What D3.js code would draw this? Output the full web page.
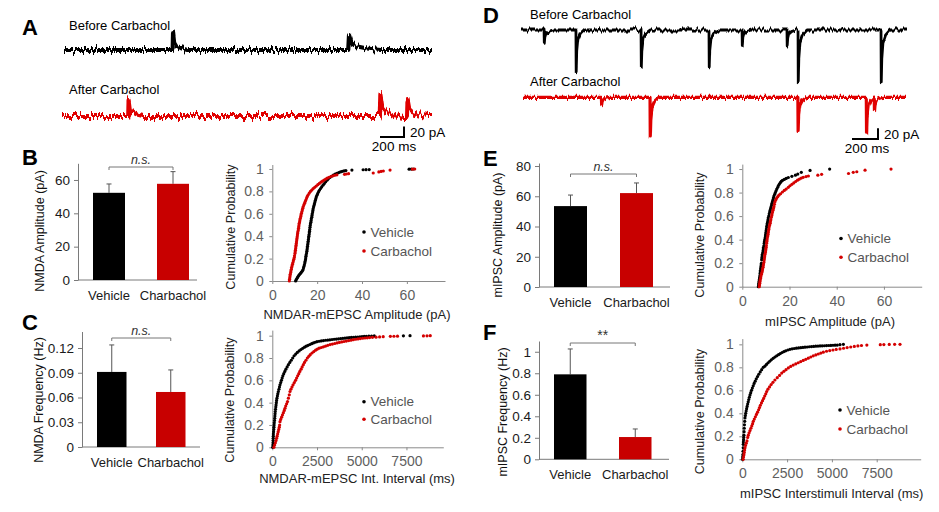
<!DOCTYPE html>
<html><head><meta charset="utf-8">
<script src="https://cdn.jsdelivr.net/npm/d3@7"></script>
<style>
body{margin:0;background:#fff;}
svg{display:block;font-family:"Liberation Sans",Arial,Helvetica,sans-serif;background:#fff;}
</style></head><body>
<svg id="fig" width="939" height="512"></svg>
<script>
// ---------------- DATA ----------------
const groups = ["Vehicle", "Charbachol"];
const seriesNames = ["Vehicle", "Carbachol"];

// Example traces: event onset (ms), amplitude (pA), decay stretch
const traceDuration = 3000;
const kernelNMDA = [[0,0],[3,1],[12,0.45],[30,0.25],[70,0.1],[120,0]];
const kernelIPSC = [[0,0],[2,1],[6,0.55],[15,0.25],[35,0.1],[70,0]];
const nmdaBefore = [[886,34,1],[2317,28,2.2]];
const nmdaAfter  = [[537,30,1],[2577,40,1.6],[2797,30,1.4]];
const ipscBefore = [[179,25,1],[427,78,1],[933,69,1],[1461,69,1],[1718,29,1],[2067,30,1],[2153,97,1],[2798,97,1]];
const ipscAfter  = [[614,14,1],[995,74,1],[2153,62,1],[2689,67,1],[2751,24,1]];

// Bar charts (mean, SEM)
const nmdaAmpMean = [52.3, 57.7],  nmdaAmpSem = [5.3, 7.3];
const nmdaFreqMean = [0.091, 0.0667], nmdaFreqSem = [0.0327, 0.0267];
const ipscAmpMean = [53.5, 62.1],  ipscAmpSem = [7.3, 6.7];
const ipscFreqMean = [0.79, 0.207], ipscFreqSem = [0.236, 0.075];
const nmdaAmpTicks = [0,20,40,60];
const nmdaFreqTicks = [0,0.03,0.06,0.09,0.12];
const ipscAmpTicks = [0,20,40,60,80];
const ipscFreqTicks = [0,0.2,0.4,0.6,0.8,1];
const probTicks = [0,0.2,0.4,0.6,0.8,1];
const ampTicks = [0,20,40,60];
const intervalTicks = [0,2500,5000,7500];

// Cumulative distributions: [value, cumulative probability]
const nmdaAmpVeh = [[10.4,0],[10.6,0.01],[10.9,0.02],[11.2,0.03],[11.5,0.04],[11.8,0.05],[12.2,0.06],[12.6,0.07],[13.0,0.08],[13.4,0.09],[13.7,0.1],[13.9,0.115],[14.1,0.13],[14.3,0.145],[14.5,0.16],[14.6,0.175],[14.8,0.19],[14.9,0.205],[15.0,0.22],[15.1,0.235],[15.3,0.25],[15.4,0.265],[15.5,0.28],[15.6,0.295],[15.7,0.31],[15.8,0.325],[15.9,0.34],[16.0,0.355],[16.1,0.37],[16.2,0.385],[16.3,0.4],[16.4,0.415],[16.5,0.43],[16.6,0.445],[16.7,0.46],[16.8,0.48],[16.9,0.495],[17.0,0.51],[17.2,0.525],[17.3,0.54],[17.4,0.555],[17.6,0.57],[17.7,0.585],[17.8,0.6],[18.0,0.615],[18.1,0.63],[18.2,0.645],[18.4,0.66],[18.6,0.675],[18.8,0.69],[19.0,0.705],[19.2,0.72],[19.4,0.735],[19.6,0.75],[19.9,0.765],[20.2,0.78],[20.6,0.795],[21.0,0.81],[21.5,0.825],[22.0,0.84],[22.6,0.855],[23.2,0.87],[23.8,0.885],[24.4,0.9],[25.0,0.912],[25.7,0.924],[26.4,0.935],[27.2,0.945],[28.0,0.954],[28.8,0.962],[29.6,0.968],[30.4,0.974],[31.2,0.979],[32.0,0.983],[32.8,0.986],[35.5,0.99],[40.5,0.993],[41.8,0.994],[43.2,0.995],[61.0,0.998],[62.0,0.999],[63.0,1]];
const nmdaAmpCarb = [[7.6,0],[7.7,0.015],[7.8,0.03],[7.9,0.045],[8.0,0.06],[8.2,0.075],[8.3,0.09],[8.5,0.105],[8.6,0.12],[8.8,0.135],[9.0,0.15],[9.2,0.165],[9.4,0.18],[9.6,0.195],[9.8,0.21],[9.9,0.225],[10.1,0.245],[10.2,0.26],[10.3,0.275],[10.4,0.29],[10.5,0.305],[10.6,0.32],[10.7,0.335],[10.8,0.35],[10.9,0.365],[11.0,0.38],[11.1,0.395],[11.2,0.41],[11.3,0.425],[11.4,0.44],[11.6,0.455],[11.7,0.47],[11.8,0.485],[11.9,0.5],[12.0,0.515],[12.2,0.53],[12.3,0.545],[12.5,0.56],[12.7,0.575],[12.8,0.59],[13.0,0.605],[13.2,0.62],[13.4,0.635],[13.6,0.65],[13.8,0.665],[14.1,0.68],[14.4,0.695],[14.7,0.71],[15.0,0.725],[15.3,0.74],[15.6,0.755],[16.0,0.77],[16.5,0.785],[17.0,0.8],[17.6,0.812],[18.2,0.824],[18.9,0.836],[19.6,0.848],[20.3,0.86],[21.0,0.871],[21.7,0.882],[22.4,0.892],[23.1,0.901],[23.8,0.91],[24.5,0.918],[25.3,0.926],[26.1,0.933],[27.0,0.939],[27.9,0.944],[28.8,0.948],[32.2,0.952],[33.0,0.955],[34.0,0.958],[45.0,0.964],[47.5,0.974],[48.5,0.978],[49.5,0.982],[52.5,0.99],[62.5,0.998],[63.5,1]];
const nmdaIntVeh = [[20,0],[30,0.02],[40,0.04],[45,0.06],[50,0.08],[55,0.1],[60,0.12],[70,0.14],[80,0.16],[90,0.18],[100,0.2],[110,0.22],[125,0.24],[135,0.26],[145,0.28],[155,0.3],[165,0.32],[180,0.34],[195,0.36],[210,0.38],[225,0.4],[240,0.42],[260,0.44],[285,0.46],[310,0.48],[340,0.5],[370,0.52],[400,0.54],[430,0.56],[470,0.58],[510,0.6],[550,0.62],[590,0.64],[640,0.66],[700,0.68],[760,0.7],[830,0.72],[900,0.74],[980,0.76],[1060,0.78],[1140,0.8],[1220,0.82],[1310,0.835],[1400,0.85],[1500,0.863],[1600,0.876],[1700,0.887],[1800,0.897],[1900,0.906],[2000,0.914],[2100,0.921],[2200,0.928],[2300,0.935],[2400,0.941],[2500,0.946],[2620,0.95],[2740,0.953],[2860,0.956],[2980,0.959],[3100,0.961],[3220,0.963],[3340,0.966],[3460,0.968],[3580,0.97],[3700,0.972],[3820,0.974],[3940,0.976],[4060,0.978],[4180,0.98],[4300,0.982],[4420,0.984],[4540,0.985],[4660,0.987],[4780,0.988],[4900,0.989],[5020,0.991],[5140,0.993],[5260,0.995],[5400,0.996],[5550,0.997],[5700,0.998],[7330,0.999],[7700,1]];
const nmdaIntCarb = [[90,0],[130,0.02],[170,0.04],[210,0.06],[240,0.08],[270,0.1],[300,0.12],[330,0.14],[360,0.16],[390,0.18],[410,0.2],[430,0.23],[470,0.25],[520,0.27],[570,0.29],[620,0.31],[670,0.33],[710,0.35],[750,0.37],[800,0.39],[850,0.41],[900,0.44],[950,0.47],[990,0.5],[1040,0.52],[1100,0.54],[1160,0.56],[1230,0.58],[1300,0.6],[1360,0.62],[1420,0.64],[1480,0.66],[1540,0.68],[1610,0.7],[1670,0.72],[1735,0.74],[1800,0.76],[1880,0.78],[1960,0.8],[2040,0.815],[2120,0.83],[2220,0.845],[2320,0.858],[2420,0.87],[2520,0.88],[2620,0.888],[2740,0.894],[2860,0.9],[2980,0.907],[3100,0.914],[3230,0.92],[3360,0.925],[3490,0.93],[3620,0.935],[3750,0.94],[3880,0.944],[4010,0.948],[4140,0.952],[4270,0.956],[4400,0.96],[4530,0.964],[4660,0.968],[4790,0.971],[4920,0.974],[5050,0.977],[5180,0.979],[5310,0.981],[5440,0.983],[5600,0.985],[5800,0.987],[6000,0.989],[6200,0.991],[6600,0.994],[6800,0.995],[7000,0.996],[8450,0.998],[8650,0.999],[8830,1]];
const ipscAmpVeh = [[6.8,0],[6.9,0.015],[7.0,0.03],[7.1,0.045],[7.2,0.06],[7.3,0.075],[7.4,0.09],[7.5,0.11],[7.6,0.125],[7.7,0.14],[7.8,0.155],[7.9,0.17],[8.0,0.185],[8.1,0.2],[8.2,0.23],[8.3,0.245],[8.4,0.26],[8.5,0.275],[8.7,0.29],[8.8,0.305],[8.9,0.32],[9.0,0.335],[9.2,0.35],[9.3,0.37],[9.4,0.385],[9.5,0.4],[9.7,0.415],[9.8,0.43],[9.9,0.445],[10.0,0.46],[10.1,0.475],[10.2,0.49],[10.3,0.51],[10.5,0.525],[10.6,0.54],[10.8,0.555],[10.9,0.57],[11.0,0.585],[11.2,0.6],[11.4,0.62],[11.6,0.635],[11.8,0.65],[12.0,0.665],[12.2,0.68],[12.4,0.695],[12.6,0.71],[12.8,0.725],[13.0,0.74],[13.2,0.755],[13.4,0.77],[13.7,0.785],[14.0,0.8],[14.3,0.815],[14.6,0.83],[15.0,0.845],[15.3,0.86],[15.7,0.872],[16.1,0.884],[16.5,0.895],[17.0,0.903],[17.8,0.912],[18.6,0.92],[19.5,0.928],[21.0,0.938],[22.5,0.948],[23.5,0.957],[25.0,0.972],[28.7,0.988],[37.0,1]];
const ipscAmpCarb = [[7.2,0],[7.3,0.015],[7.4,0.03],[7.5,0.045],[7.6,0.06],[7.8,0.075],[7.9,0.09],[8.1,0.105],[8.3,0.12],[8.5,0.135],[8.6,0.15],[8.8,0.165],[8.9,0.18],[9.0,0.195],[9.2,0.21],[9.3,0.23],[9.4,0.245],[9.5,0.26],[9.6,0.275],[9.8,0.29],[9.9,0.305],[10.0,0.32],[10.1,0.335],[10.2,0.35],[10.3,0.37],[10.4,0.385],[10.5,0.4],[10.6,0.415],[10.8,0.43],[10.9,0.445],[11.0,0.46],[11.1,0.475],[11.3,0.49],[11.4,0.51],[11.6,0.525],[11.8,0.54],[11.9,0.555],[12.1,0.57],[12.3,0.59],[12.5,0.605],[12.6,0.62],[12.8,0.635],[13.0,0.65],[13.2,0.665],[13.4,0.68],[13.6,0.7],[13.8,0.72],[14.1,0.735],[14.5,0.75],[15.0,0.765],[15.5,0.778],[16.2,0.79],[17.0,0.805],[17.8,0.818],[18.6,0.83],[19.5,0.845],[20.2,0.858],[21.0,0.87],[21.8,0.882],[22.6,0.894],[23.4,0.905],[24.2,0.915],[25.0,0.923],[25.8,0.93],[27.0,0.936],[28.0,0.941],[32.0,0.948],[33.6,0.955],[45.0,0.962],[47.0,0.972],[48.5,0.977],[52.0,0.99],[63.0,1]];
const ipscIntVeh = [[10,0],[20,0.02],[30,0.04],[40,0.07],[50,0.1],[55,0.13],[60,0.15],[70,0.17],[80,0.19],[90,0.21],[100,0.24],[110,0.27],[120,0.3],[135,0.33],[150,0.36],[170,0.38],[190,0.4],[215,0.42],[240,0.44],[270,0.46],[300,0.48],[330,0.5],[360,0.52],[395,0.54],[430,0.56],[470,0.58],[515,0.6],[560,0.62],[610,0.64],[660,0.66],[720,0.68],[780,0.7],[850,0.72],[920,0.74],[1000,0.76],[1080,0.78],[1170,0.8],[1260,0.81],[1350,0.825],[1440,0.84],[1530,0.853],[1620,0.866],[1720,0.878],[1820,0.89],[1920,0.9],[2020,0.91],[2120,0.92],[2220,0.929],[2320,0.937],[2420,0.944],[2540,0.951],[2660,0.957],[2780,0.961],[2900,0.964],[3020,0.967],[3140,0.969],[3260,0.971],[3380,0.973],[3500,0.975],[3620,0.977],[3740,0.979],[3860,0.981],[3980,0.982],[4100,0.984],[4220,0.985],[4340,0.986],[4460,0.987],[4580,0.988],[4700,0.989],[4820,0.99],[4940,0.991],[5060,0.992],[5180,0.993],[5300,0.994],[5450,0.997],[5640,1]];
const ipscIntCarb = [[50,0],[70,0.02],[90,0.04],[110,0.06],[130,0.08],[150,0.1],[180,0.12],[220,0.14],[260,0.16],[300,0.19],[335,0.21],[380,0.23],[430,0.25],[480,0.27],[530,0.29],[575,0.31],[614,0.33],[670,0.35],[730,0.37],[790,0.39],[850,0.41],[910,0.43],[960,0.45],[1010,0.47],[1070,0.49],[1130,0.51],[1190,0.53],[1250,0.55],[1310,0.57],[1360,0.59],[1430,0.61],[1520,0.63],[1610,0.65],[1710,0.67],[1820,0.69],[1950,0.71],[2080,0.73],[2200,0.75],[2320,0.765],[2440,0.78],[2570,0.795],[2700,0.808],[2840,0.82],[2980,0.83],[3120,0.84],[3260,0.85],[3400,0.86],[3540,0.87],[3680,0.88],[3820,0.89],[3960,0.9],[4100,0.908],[4240,0.916],[4380,0.924],[4520,0.932],[4700,0.94],[4880,0.946],[5060,0.951],[5240,0.956],[5450,0.96],[5650,0.966],[5850,0.972],[6050,0.977],[6250,0.982],[6450,0.986],[6650,0.99],[6950,0.994],[7700,0.997],[7900,0.998],[8200,0.999],[8500,1],[8800,1]];

// ---------------- DRAWING ----------------
const svg = d3.select("#fig");
const RED = "#d40000", BAR_RED = "#c80000", BLACK = "#000";
const defs = svg.append("defs");

function noiseFilter(id, freq, scale, seed) {
  const f = defs.append("filter").attr("id", id)
    .attr("filterUnits", "userSpaceOnUse").attr("x", 0).attr("y", 0)
    .attr("width", 939).attr("height", 512)
    .attr("color-interpolation-filters", "sRGB");
  f.append("feTurbulence").attr("type", "fractalNoise").attr("baseFrequency", freq)
    .attr("numOctaves", 2).attr("seed", seed).attr("result", "n");
  f.append("feColorMatrix").attr("in", "n").attr("type", "matrix")
    .attr("values", "0 0 0 0 0.5  0 1 0 0 0  0 0 0 0 0  0 0 0 0 1").attr("result", "m");
  f.append("feDisplacementMap").attr("in", "SourceGraphic").attr("in2", "m")
    .attr("scale", scale).attr("xChannelSelector", "R").attr("yChannelSelector", "G");
}
noiseFilter("noiseA1", "0.45 0.02", 13, 3);
noiseFilter("noiseA2", "0.45 0.02", 13, 7);
noiseFilter("noiseD1", "0.45 0.02", 7, 11);
noiseFilter("noiseD2", "0.45 0.02", 8, 17);

// panel letters
[["A",22,35],["B",22,165],["C",22,330],["D",483,23],["E",483,166],["F",483,340]].forEach(([t,x,y]) =>
  svg.append("text").attr("x", x).attr("y", y).attr("font-size", 22).attr("font-weight", "bold")
    .attr("fill", "#000").text(t));

function kernelAt(kernel, dt) {
  if (dt <= 0 || dt >= kernel[kernel.length-1][0]) return 0;
  for (let i = 1; i < kernel.length; i++) {
    if (dt <= kernel[i][0]) {
      const [t0,f0] = kernel[i-1], [t1,f1] = kernel[i];
      return f0 + (f1 - f0) * (dt - t0) / (t1 - t0);
    }
  }
  return 0;
}

function drawTrace(cfg) {
  const x = d3.scaleLinear().domain([0, traceDuration]).range([cfg.x0, cfg.x1]);
  const y = d3.scaleLinear().domain([0, 20]).range([cfg.base, cfg.base - cfg.sign * cfg.px20]);
  const times = new Set([0, traceDuration]);
  cfg.events.forEach(([t,, s]) => cfg.kernel.forEach(([dt]) => times.add(t + dt * s)));
  const ts = Array.from(times).sort((a, b) => a - b);
  const pts = ts.map(t => [t, d3.sum(cfg.events, ([te, a, s]) => a * kernelAt(cfg.kernel, (t - te) / s))]);
  svg.append("path").datum(pts)
    .attr("d", d3.line().x(d => x(d[0])).y(d => y(d[1])))
    .attr("fill", "none").attr("stroke", cfg.color).attr("stroke-width", cfg.width)
    .attr("stroke-linejoin", "round").attr("filter", `url(#${cfg.filter})`);
}

function scaleBar(cfg) {
  const g = svg.append("g");
  g.append("path").attr("d", `M${cfg.x0},${cfg.y}H${cfg.x1}V${cfg.y - cfg.h}`)
    .attr("fill", "none").attr("stroke", "#000").attr("stroke-width", 2);
  g.append("text").attr("x", cfg.x1 + 6).attr("y", cfg.y).attr("font-size", 13.5).text("20 pA");
  g.append("text").attr("x", (cfg.x0 + cfg.x1) / 2 + 2).attr("y", cfg.y + 13.5).attr("font-size", 13.5)
    .attr("text-anchor", "middle").text("200 ms");
}

function label(x, y, t, size) {
  return svg.append("text").attr("x", x).attr("y", y).attr("font-size", size).attr("fill", "#000").text(t);
}

// Panel A
label(69, 30, "Before Carbachol", 13);
label(69, 94, "After Carbachol", 13);
drawTrace({events: nmdaBefore, kernel: kernelNMDA, x0: 64, x1: 432, base: 50, px20: 10.6, sign: 1, color: "#000", width: 4.2, filter: "noiseA1"});
drawTrace({events: nmdaAfter, kernel: kernelNMDA, x0: 62, x1: 432, base: 116, px20: 10.6, sign: 1, color: "#e00000", width: 4.2, filter: "noiseA2"});
scaleBar({x0: 380, x1: 404, y: 137, h: 10.6});

// Panel D
label(530, 19, "Before Carbachol", 13);
label(530, 86, "After Carbachol", 13);
drawTrace({events: ipscBefore, kernel: kernelIPSC, x0: 521, x1: 907, base: 30, px20: 10.7, sign: -1, color: "#000", width: 2.8, filter: "noiseD1"});
drawTrace({events: ipscAfter, kernel: kernelIPSC, x0: 523, x1: 906, base: 97.3, px20: 10.7, sign: -1, color: "#e00000", width: 3.2, filter: "noiseD2"});
scaleBar({x0: 852, x1: 878, y: 139, h: 10.7});

// ---------- Bar charts ----------
function barChart(c) {
  const g = svg.append("g");
  const y = d3.scaleLinear().domain(c.yDomain).range(c.yRange);
  const x = d3.scaleBand().domain(groups).range(c.band).paddingInner(0.5).paddingOuter(0.25);
  const base = c.yRange[0];
  const ax = g.append("g").attr("transform", `translate(${c.axisX0},0)`)
    .call(d3.axisLeft(y).tickValues(c.ticks).tickSize(4).tickSizeOuter(0).tickPadding(4).tickFormat(d3.format("~g")));
  ax.selectAll("text").attr("font-size", 13.5).attr("fill", "#1a1a1a").attr("font-family", null);
  ax.selectAll("line, path").attr("stroke", "#7a7a7a");
  g.append("line").attr("x1", c.axisX0).attr("x2", c.axisX1).attr("y1", base).attr("y2", base).attr("stroke", "#7a7a7a");
  const colors = [BLACK, BAR_RED];
  groups.forEach((k, i) => {
    const cx = x(k) + x.bandwidth() / 2;
    g.append("line").attr("x1", cx).attr("x2", cx).attr("y1", y(c.means[i])).attr("y2", y(c.means[i] + c.sems[i]))
      .attr("stroke", "#555").attr("stroke-width", 1);
    g.append("line").attr("x1", cx - 2.5).attr("x2", cx + 2.5).attr("y1", y(c.means[i] + c.sems[i])).attr("y2", y(c.means[i] + c.sems[i]))
      .attr("stroke", "#555").attr("stroke-width", 1);
    g.append("rect").attr("x", x(k)).attr("width", x.bandwidth()).attr("y", y(c.means[i]))
      .attr("height", base - y(c.means[i])).attr("fill", colors[i]);
    g.append("text").attr("x", cx).attr("y", base + 15).attr("dominant-baseline", "central")
      .attr("text-anchor", "middle").attr("font-size", 13).attr("fill", "#1a1a1a").text(k);
  });
  const xa = x(groups[0]) + x.bandwidth() / 2, xb = x(groups[1]) + x.bandwidth() / 2;
  g.append("path").attr("d", `M${xa},${c.sigY + 3}V${c.sigY}H${xb}V${c.sigY + 3}`)
    .attr("fill", "none").attr("stroke", "#777").attr("stroke-width", 1);
  g.append("text").attr("x", (xa + xb) / 2).attr("y", c.sigY - 3).attr("text-anchor", "middle")
    .attr("font-size", c.sig === "**" ? 14 : 12.5).attr("font-style", c.sig === "**" ? "normal" : "italic")
    .attr("fill", "#333").text(c.sig);
  g.append("text").attr("transform", `translate(${c.titleX},${c.titleY}) rotate(-90)`)
    .attr("text-anchor", "middle").attr("dominant-baseline", "central").attr("font-size", 12.5)
    .attr("fill", "#111").text(c.title);
}

barChart({means: nmdaAmpMean, sems: nmdaAmpSem, yDomain: [0, 70], yRange: [280, 163.3], ticks: nmdaAmpTicks,
  band: [77, 205], axisX0: 78, axisX1: 197, sigY: 167, sig: "n.s.", title: "NMDA Amplitude (pA)", titleX: 40, titleY: 231});
barChart({means: nmdaFreqMean, sems: nmdaFreqSem, yDomain: [0, 0.14], yRange: [447, 331.5], ticks: nmdaFreqTicks,
  band: [82.25, 200.25], axisX0: 82, axisX1: 200, sigY: 338, sig: "n.s.", title: "NMDA Frequency (Hz)", titleX: 39, titleY: 400});
barChart({means: ipscAmpMean, sems: ipscAmpSem, yDomain: [0, 82], yRange: [287, 163], ticks: ipscAmpTicks,
  band: [537.5, 669.5], axisX0: 539, axisX1: 670, sigY: 174, sig: "n.s.", title: "mIPSC Amplitude (pA)", titleX: 498, titleY: 235});
barChart({means: ipscFreqMean, sems: ipscFreqSem, yDomain: [0, 1.1], yRange: [459.3, 341], ticks: ipscFreqTicks,
  band: [537.75, 667.75], axisX0: 539, axisX1: 669, sigY: 343, sig: "**", title: "mIPSC Frequency (Hz)", titleX: 503, titleY: 412});

// ---------- Cumulative plots ----------
function cumulPlot(c) {
  const g = svg.append("g");
  const x = d3.scaleLinear().domain(c.xDomain).range(c.xRange);
  const y = d3.scaleLinear().domain(c.yDomain).range(c.yRange);
  const xa = g.append("g").attr("transform", `translate(0,${c.yRange[0]})`)
    .call(d3.axisBottom(x).tickValues(c.xTicks).tickSize(3).tickSizeOuter(0).tickPadding(6).tickFormat(d3.format("d")));
  const ya = g.append("g").attr("transform", `translate(${c.xRange[0]},0)`)
    .call(d3.axisLeft(y).tickValues(probTicks).tickSize(3).tickSizeOuter(0).tickPadding(5.5).tickFormat(d3.format("~g")));
  [xa, ya].forEach(a => {
    a.selectAll("text").attr("font-size", 14).attr("fill", "#5f5f5f").attr("font-family", null);
    a.selectAll("line, path").attr("stroke", "#8a8a8a");
  });
  const series = [[c.veh, BLACK], [c.carb, RED]];
  series.forEach(([data, col]) => {
    g.append("g").selectAll("circle").data(data).join("circle")
      .attr("cx", d => x(d[0])).attr("cy", d => y(d[1])).attr("r", 1.6).attr("fill", col);
  });
  seriesNames.forEach((n, i) => {
    const ly = c.legY + i * c.legGap;
    g.append("circle").attr("cx", c.legX).attr("cy", ly).attr("r", 1.8).attr("fill", i ? RED : BLACK);
    g.append("text").attr("x", c.legX + 6.5).attr("y", ly).attr("dominant-baseline", "central")
      .attr("font-size", 13.5).attr("fill", "#555").text(n);
  });
  g.append("text").attr("x", c.xtX).attr("y", c.xtY).attr("text-anchor", "middle").attr("dominant-baseline", "central")
    .attr("font-size", 13).attr("fill", "#222").text(c.xTitle);
  g.append("text").attr("transform", `translate(${c.ytX},${c.ytY}) rotate(-90)`).attr("text-anchor", "middle")
    .attr("dominant-baseline", "central").attr("font-size", 12.6).attr("fill", "#222").text("Cumulative Probability");
}

cumulPlot({veh: nmdaAmpVeh, carb: nmdaAmpCarb, xDomain: [0, 77], xRange: [272.3, 445], yDomain: [0, 1.04], yRange: [281, 164.5],
  xTicks: ampTicks, legX: 364, legY: 232, legGap: 19, xTitle: "NMDAR-mEPSC Amplitude (pA)", xtX: 357, xtY: 314, ytX: 231, ytY: 227});
cumulPlot({veh: nmdaIntVeh, carb: nmdaIntCarb, xDomain: [0, 9560], xRange: [272.3, 443.3], yDomain: [0, 1.05], yRange: [447.3, 330.1],
  xTicks: intervalTicks, legX: 364, legY: 401.7, legGap: 17.6, xTitle: "NMDAR-mEPSC Int. Interval (ms)", xtX: 357, xtY: 478, ytX: 230, ytY: 400});
cumulPlot({veh: ipscAmpVeh, carb: ipscAmpCarb, xDomain: [0, 76], xRange: [742.3, 921.7], yDomain: [0, 1.042], yRange: [286.7, 164.1],
  xTicks: ampTicks, legX: 841, legY: 238.5, legGap: 18.8, xTitle: "mIPSC Amplitude (pA)", xtX: 830, xtY: 321.5, ytX: 700, ytY: 235});
cumulPlot({veh: ipscIntVeh, carb: ipscIntCarb, xDomain: [0, 9955], xRange: [742.3, 920.7], yDomain: [0, 1.05], yRange: [459.3, 338.6],
  xTicks: intervalTicks, legX: 840, legY: 410, legGap: 19, xTitle: "mIPSC Interstimuli Interval (ms)", xtX: 831.7, xtY: 493, ytX: 700, ytY: 411.7});
</script>
</body></html>
